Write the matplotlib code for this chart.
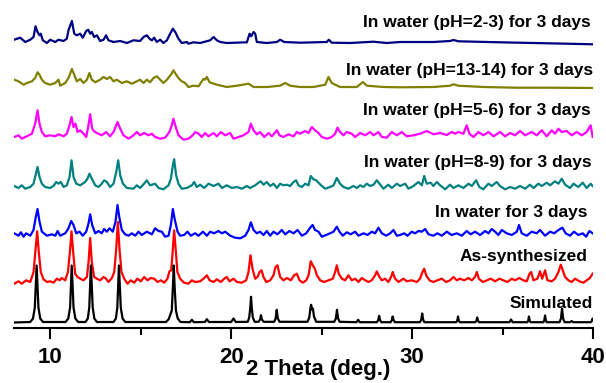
import numpy as np
import matplotlib
matplotlib.use("Agg")
import matplotlib.pyplot as plt

plt.rcParams['font.family'] = ['Liberation Sans', 'DejaVu Sans']
plt.rcParams['font.weight'] = 'bold'

# (2theta, intensity above own baseline)
simulated = [(8.0,0),(8.9,0.5),(9.05,4),(9.15,15),(9.21,40),(9.25,57),(9.29,40),(9.35,15),(9.45,4),(9.6,0.5),
             (10.85,0.5),(11.0,4),(11.1,15),(11.15,40),(11.19,57),(11.23,40),(11.29,15),(11.39,4),(11.55,0.5),
             (11.95,0.5),(12.08,4),(12.16,15),(12.21,40),(12.25,57),(12.29,40),(12.35,15),(12.44,4),(12.58,0.5),
             (13.5,0.5),(13.63,4),(13.71,15),(13.76,40),(13.8,57),(13.84,40),(13.9,15),(14.0,4),(14.15,0.5),
             (16.4,0.5),(16.55,3.3),(16.65,8.3),(16.72,12),(16.78,35),(16.83,57),(16.88,35),(16.95,12),(17.05,4),(17.2,0.5),
             (17.72,0.3),(17.83,2.7),(17.94,0.3),(18.55,0.5),(18.66,3.3),(18.77,0.5),(20.0,0.5),(20.13,4),(20.26,0.5),
             (20.92,0.7),(21.0,5),(21.06,15),(21.1,25.7),(21.14,15),(21.2,5),(21.3,0.7),(21.52,0.7),(21.6,3),(21.65,7.3),(21.7,3),(21.8,0.7),
             (22.38,0.7),(22.46,4),(22.52,12.7),(22.58,4),(22.68,0.7),
             (24.22,0.7),(24.32,5),(24.38,14),(24.42,17.7),(24.47,13),(24.52,14),(24.58,6),(24.7,0.7),
             (25.7,0.7),(25.79,4),(25.85,12.7),(25.91,4),(26.0,0.7),(26.93,0.3),(27.02,2.7),(27.11,0.3),
             (28.06,0.3),(28.13,2.5),(28.18,6.7),(28.23,2.5),(28.3,0.3),(28.82,0.3),(28.88,2.5),(28.93,6),(28.98,2.5),(29.05,0.3),
             (30.44,0.3),(30.51,3),(30.56,9),(30.61,3),(30.68,0.3),(32.44,0.3),(32.5,2),(32.54,6),(32.58,2),(32.64,0.3),
             (33.5,0.3),(33.56,2),(33.6,5),(33.64,2),(33.7,0.3),(35.38,0.3),(35.47,3),(35.56,0.3),
             (36.37,0.3),(36.42,2),(36.46,6),(36.5,2),(36.55,0.3),(37.26,0.3),(37.31,2.5),(37.35,7),(37.39,2.5),(37.44,0.3),
             (38.15,0.3),(38.23,4),(38.29,14),(38.35,4),(38.43,0.3),(38.74,0.3),(38.82,1.5),(38.9,0.3),
             (39.88,0.3),(39.94,1.5),(39.98,4),(40.0,3)]

as_synth = [(8.01,-1.7),(8.25,0.7),(8.43,-1.7),(8.67,1.7),(8.9,0),(9.08,10),(9.19,33),(9.28,50.7),(9.37,30),(9.48,10),(9.63,2.7),(9.82,0),(10.0,0.7),(10.18,-0.7),(10.37,3.3),(10.52,1.7),
            (10.64,4),(10.83,1.7),(10.98,10),(11.09,30),(11.18,50.7),(11.27,30),(11.38,8.3),(11.51,5),(11.66,3.3),(11.84,1.7),(12.03,5),(12.12,20),(12.21,44),(12.3,20),(12.43,5),
            (12.58,3.3),(12.76,1.7),(12.95,5),(13.09,3.3),(13.22,0),(13.41,4),(13.54,10),(13.65,33),(13.74,60),(13.83,33),(13.94,10),(14.09,3.3),(14.27,-1.7),(14.46,1.7),(14.64,-0.7),
            (14.82,3.3),(15.01,0.7),(15.19,5),(15.38,1.7),(15.56,4),(15.75,3.3),(15.93,0),(16.12,1.7),(16.3,-0.7),(16.48,3.3),(16.59,10.7),(16.69,11.7),(16.78,33),(16.85,51.7),
            (16.94,31.7),(17.03,10),(17.18,3.3),(17.4,-0.7),(17.64,-1.7),(17.83,1.7),(18.01,0),(18.29,0.7),(18.47,3.3),(18.66,6.7),(18.81,1.7),(19.03,0),(19.21,2.7),(19.43,0),
            (19.62,3.3),(19.76,5),(19.91,0.7),(20.13,3.3),(20.32,0),(20.59,-0.7),(20.83,1.7),(20.96,10),(21.07,26.7),(21.18,13.3),(21.33,3.3),(21.46,5),(21.57,10),(21.68,11.7),
            (21.79,5),(21.94,0),(22.16,1.7),(22.34,6.7),(22.45,15),(22.56,16.7),(22.71,5),(22.89,1.7),(23.08,4),(23.3,1.7),(23.48,6.7),(23.63,8.3),(23.78,1.7),(23.96,-0.7),
            (24.15,1.7),(24.28,6.7),(24.4,20.7),(24.51,16.7),(24.63,13.3),(24.74,6.7),(24.92,1.7),(25.14,0),(25.38,1.7),(25.62,3.3),(25.75,10),(25.84,16.7),(25.95,8.3),(26.12,3.3),
            (26.3,1.7),(26.48,6.7),(26.67,1.7),(26.85,3.3),(27.04,0),(27.22,4),(27.41,1.7),(27.59,0),(27.77,1.7),(27.96,6.7),(28.05,10.7),(28.2,5),(28.33,1.7),(28.51,3.3),(28.69,0),
            (28.84,5),(28.93,10),(29.06,3.3),(29.25,0),(29.52,3.3),(29.71,0.7),(29.98,1.7),(30.26,0),(30.44,3.3),(30.56,9.3),(30.67,13.3),(30.78,6.7),(30.96,1.7),(31.18,0),(31.4,1.7),
            (31.64,3.3),(31.88,0),(32.1,1.7),(32.29,5),(32.47,1.7),(32.65,3.3),(32.88,1.7),(33.12,4),(33.3,1.7),(33.48,5),(33.58,10),(33.69,3.3),(33.91,0),(34.13,1.7),(34.35,3.3),
            (34.59,0.7),(34.83,3.3),(35.05,1.7),(35.27,0),(35.51,3.3),(35.69,1.7),(35.93,4),(36.15,1.7),(36.34,0.7),(36.49,8.3),(36.58,10),(36.71,1.7),(36.93,3.3),(37.07,10.7),
            (37.19,3.3),(37.35,11.7),(37.48,1.7),(37.72,0.7),(37.9,3.3),(38.09,10),(38.22,17.3),(38.33,11.7),(38.46,5),(38.64,1.7),(38.82,0),(39.01,3.3),(39.25,0.7),(39.47,-0.7),
            (39.65,1.7),(39.83,4),(39.98,8.3)]

water = [(8.01,1.7),(8.25,-0.7),(8.38,2.7),(8.53,-1.7),(8.67,1.7),(8.9,-0.7),(9.08,5),(9.19,16.7),(9.3,26),(9.41,13.3),(9.54,3.3),(9.82,-0.7),(10.09,0.7),(10.28,-0.7),(10.41,4),
         (10.55,-0.7),(10.83,1.7),(11.01,6.7),(11.16,14),(11.29,10),(11.44,1.7),(11.62,3.3),(11.8,-0.7),(11.99,3.3),(12.12,11.7),(12.21,20.7),(12.32,10),(12.49,1.7),(12.67,4),
         (12.85,1.7),(12.98,6),(13.13,3.3),(13.28,6.7),(13.46,3.3),(13.61,13.3),(13.72,30),(13.83,16.7),(13.96,5),(14.14,0.7),(14.33,-0.7),(14.51,1.7),(14.7,-0.7),(14.88,3.3),
         (15.06,0),(15.34,3.3),(15.62,0.7),(15.8,6.7),(15.99,4),(16.17,3.3),(16.35,-1.7),(16.54,-0.7),(16.67,10),(16.78,26),(16.89,15),(17.04,3.3),(17.18,-0.7),(17.4,0),(17.59,3.3),
         (17.77,-0.7),(18.01,1.7),(18.2,-0.7),(18.44,3.3),(18.66,-0.7),(18.84,3.3),(19.06,1.7),(19.3,4),(19.49,1.7),(19.67,3.3),(19.95,-0.7),(20.22,-2.7),(20.5,-3.3),(20.78,-0.7),
         (20.96,5),(21.09,12.7),(21.24,5),(21.42,1.7),(21.6,3.3),(21.79,0),(21.97,4),(22.16,-0.7),(22.34,3.3),(22.56,0.7),(22.8,5),(22.99,0.7),(23.22,4),(23.45,1.7),(23.67,5),
         (23.91,-0.7),(24.15,1.7),(24.37,7.3),(24.5,10),(24.64,5),(24.83,3.3),(25.01,-1.7),(25.25,0),(25.47,1.7),(25.66,3.3),(25.84,8.3),(25.99,3.3),(26.17,-0.7),(26.39,2.7),
         (26.61,0.7),(26.85,3.3),(27.04,-0.7),(27.31,1.7),(27.54,0),(27.77,3.3),(27.96,1.7),(28.14,7.3),(28.33,1.7),(28.57,-0.7),(28.79,1.7),(28.97,5),(29.16,-0.7),(29.34,0),
         (29.56,1.7),(29.75,-0.7),(29.98,3.3),(30.17,1.7),(30.35,4),(30.54,3.3),(30.72,6),(30.91,0.7),(31.18,-0.7),(31.4,1.7),(31.64,-0.7),(31.92,3.3),(32.19,0),(32.47,1.7),
         (32.75,-0.7),(33.02,4),(33.24,0.7),(33.48,3.3),(33.76,0),(34.04,4),(34.22,1.7),(34.4,6),(34.59,3.3),(34.77,0),(34.96,5),(35.23,1.7),(35.51,0),(35.79,3.3),(35.91,10),
         (36.06,1.7),(36.34,-0.7),(36.61,3.3),(36.89,1.7),(37.07,5),(37.35,-0.7),(37.63,3.3),(37.85,1.7),(38.09,5),(38.31,7.3),(38.49,1.7),(38.73,-0.7),(38.95,3.3),(39.19,0),
         (39.43,1.7),(39.62,-1.7),(39.8,4),(39.98,1.7)]

ph_8_9 = [(8.01,1),(8.25,-1),(8.43,1.7),(8.62,-1.7),(8.9,0),(9.08,3.3),(9.19,11.7),(9.3,20),(9.41,10),(9.54,3.3),(9.72,0),(10.0,-1),(10.18,1),(10.33,5),(10.46,3.3),(10.59,5),
          (10.74,0),(10.92,1.7),(11.07,10),(11.18,26.7),(11.29,10),(11.44,3.3),(11.66,1.7),(11.93,5),(12.06,8.3),(12.17,13.3),(12.3,8.3),(12.49,1.7),(12.67,0),(12.85,3.3),
          (12.98,6.7),(13.13,5),(13.31,0),(13.5,3.3),(13.65,15),(13.76,26.7),(13.87,11.7),(14.02,3.3),(14.24,-1),(14.6,-1.7),(14.79,1.7),(14.97,-1),(15.19,3.3),(15.34,6.7),
          (15.52,1.7),(15.8,3.3),(15.99,-1),(16.26,-2.3),(16.54,1.7),(16.67,8.3),(16.78,21.7),(16.85,27.7),(16.96,11.7),(17.09,3.3),(17.27,-1.7),(17.55,-1),(17.83,1.7),(17.96,5),
          (18.1,0),(18.29,2.3),(18.51,-1),(18.75,3.3),(19.03,1),(19.3,3.3),(19.49,-1),(19.76,1.7),(20.04,-1),(20.32,0),(20.59,-1.7),(20.87,1),(21.05,-1),(21.33,1.7),(21.51,4.3),
          (21.64,5.7),(21.79,2.3),(21.97,5),(22.16,1),(22.34,3.3),(22.53,-1),(22.71,3.3),(22.89,1.7),(23.08,2.3),(23.26,1),(23.45,5),(23.59,6.7),(23.72,1.7),(23.91,0),(24.09,3.3),
          (24.28,1.7),(24.4,11),(24.55,7.7),(24.7,6.7),(24.83,4.3),(25.01,1),(25.2,-1.7),(25.47,0),(25.66,1.7),(25.84,9),(26.02,3.3),(26.21,0),(26.48,-1.7),(26.76,1),(26.95,-1),
          (27.13,1.7),(27.31,0),(27.5,3.3),(27.68,1),(27.87,2.3),(28.05,6.7),(28.2,3.3),(28.42,-1.7),(28.69,2.3),(28.88,-1),(29.16,3.3),(29.34,1),(29.62,3.3),(29.8,-1.7),(30.08,1),
          (30.35,5),(30.54,1.7),(30.67,11),(30.81,3.3),(31.03,4.3),(31.18,1),(31.37,5),(31.55,1.7),(31.83,-2.3),(32.1,2.3),(32.29,-1),(32.56,1.7),(32.84,-1),(33.12,3.3),(33.3,1),
          (33.54,6.7),(33.72,0),(33.94,-2.3),(34.22,3.3),(34.4,1),(34.68,5),(34.86,1),(35.14,-2.3),(35.42,0),(35.69,-1.7),(35.97,1),(36.25,-1.7),(36.52,2.3),(36.71,-1),(36.98,3.3),
          (37.17,1),(37.44,4.3),(37.63,1.7),(37.9,5.7),(38.09,3.3),(38.27,8.3),(38.46,2.3),(38.73,-1),(38.92,3.3),(39.19,0),(39.43,4.3),(39.65,-1),(39.87,3.3),(39.98,1)]

ph_5_6 = [(8.01,0),(8.25,1.7),(8.43,-1.7),(8.71,0.7),(8.99,3.3),(9.17,13.3),(9.3,26.7),(9.41,13.3),(9.54,5),(9.72,0.7),(10.0,1.7),(10.28,0.7),(10.46,2.7),(10.74,0.7),(10.92,3.3),
          (11.07,11.7),(11.18,20),(11.29,10),(11.4,13.3),(11.51,5),(11.66,6.7),(11.84,3.3),(11.99,0),(12.1,10),(12.21,22.7),(12.32,8.3),(12.47,5),(12.67,3.3),(12.85,1.7),(13.09,5),
          (13.31,0.7),(13.5,5),(13.72,15),(13.87,8.3),(14.05,1.7),(14.33,-1.7),(14.6,1.7),(14.79,5),(14.97,1.7),(15.19,4),(15.43,1.7),(15.62,3.3),(15.8,0),(16.08,-1.7),(16.35,-0.7),
          (16.59,5),(16.72,11.7),(16.81,18.3),(16.94,10),(17.09,1.7),(17.37,-2.7),(17.64,-1.7),(17.88,1.7),(18.01,5),(18.2,3.3),(18.38,0),(18.56,4),(18.75,0.7),(19.03,4),(19.21,0.7),
          (19.43,5),(19.67,1.7),(19.95,4),(20.13,-1.7),(20.41,0),(20.68,1.7),(20.96,5),(21.09,13.3),(21.24,6.7),(21.42,2.7),(21.6,5),(21.83,0),(22.07,4),(22.25,0.7),(22.53,6.7),
          (22.67,1.7),(22.89,0),(23.17,2.7),(23.45,0.7),(23.63,5),(23.81,3.3),(24.09,6),(24.28,4),(24.46,10),(24.64,6.7),(24.83,4),(25.01,0),(25.29,-1.7),(25.56,0),(25.75,3.3),
          (25.88,9.3),(26.02,5),(26.21,1.7),(26.39,5),(26.67,3.3),(26.85,0),(27.13,4),(27.41,1.7),(27.68,5),(27.87,1.7),(28.14,5),(28.33,0),(28.6,-0.7),(28.88,5),(29.16,1.7),
          (29.43,5),(29.71,0.7),(30.08,1.7),(30.44,3.3),(30.81,6),(31.18,2.7),(31.55,4),(31.92,2),(32.19,5),(32.38,3.3),(32.56,5),(32.84,3.3),(33.02,11.7),(33.17,3.3),(33.39,0),
          (33.67,5),(33.94,1.7),(34.22,5),(34.5,0.7),(34.86,5),(35.14,0.7),(35.42,4),(35.69,1.7),(35.97,6),(36.25,1.7),(36.61,5),(36.89,1.7),(37.17,6.7),(37.44,0.7),(37.72,6.7),
          (37.9,3.3),(38.09,8.3),(38.27,5),(38.55,6),(38.82,1.7),(39.1,5),(39.38,1.7),(39.65,5),(39.87,11.7),(39.98,0)]

ph_13_14 = [(8.01,3.3),(8.25,1.7),(8.53,-1.7),(8.71,0),(8.99,1.7),(9.17,5),(9.3,10.7),(9.41,8.3),(9.54,3.3),(9.72,0),(10.0,-1.7),(10.28,0),(10.46,3.3),(10.55,-2.7),(10.83,0),
            (11.01,5),(11.2,14),(11.33,8.3),(11.47,1.7),(11.66,4),(11.84,0),(12.03,3.3),(12.17,10),(12.3,3.3),(12.49,0.7),(12.76,3.3),(12.95,6),(13.13,4),(13.31,6),(13.5,1.7),
            (13.68,3.3),(13.96,0),(14.24,1.7),(14.51,-0.7),(14.79,1.7),(14.97,3.3),(15.16,0),(15.34,3.3),(15.52,0.7),(15.71,5),(15.89,6.7),(16.08,3.3),(16.26,0),(16.45,3.3),
            (16.67,8.3),(16.81,12.7),(16.96,8.3),(17.09,5),(17.27,1.7),(17.46,0),(17.64,-4),(17.92,-2.7),(18.2,-3.3),(18.38,1.7),(18.47,4),(18.56,3.3),(18.66,6),(18.81,0.7),
            (19.21,-1.7),(19.76,-4),(20.32,-2.7),(20.96,-0.7),(21.24,-4),(21.97,-4),(22.71,-2.7),(22.99,0),(23.26,-2.7),(23.81,-4),(24.55,-4),(25.2,-1.7),(25.38,6),(25.56,0),
            (26.02,-4),(26.95,-4),(27.28,1),(27.5,-2.7),(28.42,-4),(29.34,-4.3),(31.18,-4),(32.1,-2.7),(32.29,-1.3),(32.56,-2.7),(33.94,-4),(35.79,-4.7),(37.63,-4.7),(39.98,-5)]

ph_2_3 = [(8.01,2.3),(8.34,4.3),(8.62,0),(8.9,2.3),(9.08,5),(9.19,15.7),(9.3,10),(9.41,6.7),(9.48,8.3),(9.59,1.7),(9.82,-1),(10.0,2.3),(10.28,0),(10.46,2.3),(10.74,1),(10.92,3.3),
          (11.01,11.7),(11.2,21),(11.33,8.3),(11.47,6.7),(11.66,8.3),(11.8,4.3),(11.99,11),(12.1,12.3),(12.21,8.3),(12.3,10),(12.43,5),(12.58,6.7),(12.76,1),(12.95,2.3),(13.09,6.7),
          (13.22,1.7),(13.5,0),(13.87,1),(14.24,-1),(14.6,1.7),(14.97,1),(15.16,5),(15.34,6.7),(15.49,3.3),(15.62,1.7),(15.75,4.3),(15.89,0),(16.08,2.3),(16.26,-1),(16.45,1.7),
          (16.63,8.3),(16.78,13.3),(16.91,10),(17.09,3.3),(17.27,-1),(17.55,0),(17.64,-1.7),(17.92,-0.3),(18.29,-1),(18.84,1.7),(19.03,5),(19.21,1.7),(19.4,0),(19.76,-1),
          (20.87,-0.3),(21.02,8.3),(21.11,5.7),(21.24,10),(21.33,8.3),(21.42,0),(21.97,-1),(22.53,0),(22.71,2.3),(22.93,0),(23.81,-0.7),(25.29,0),(25.4,2.3),(25.56,-0.7),
          (26.58,-1),(27.87,0.3),(28.6,-1),(29.34,0),(31.18,0),(32.1,1),(32.29,2),(32.56,0.7),(34.86,-0.3),(36.7,-1),(38.55,-1.7),(39.98,-2.3)]

labels = ["Simulated", "As-synthesized", "In water for 3 days", "In water (pH=8-9) for 3 days",
          "In water (pH=5-6) for 3 days", "In water (pH=13-14) for 3 days", "In water (pH=2-3) for 3 days"]
series = [simulated, as_synth, water, ph_8_9, ph_5_6, ph_13_14, ph_2_3]
colors = ["black", "#ff0000", "#0000ff", "#008080", "#ff00ff", "#808000", "#000080"]
offsets = [5.5, 46, 93, 141, 191, 245, 286]
label_y = [25, 71, 115, 165, 218, 258, 305]
label_x = [40.0, 39.72, 39.67, 39.9, 39.9, 40.0, 39.9]
zorders = [3, 2, 4, 5, 6, 7, 8]

fig = plt.figure(figsize=(6.06, 3.83), dpi=100)
ax = fig.add_axes([14/606, 1 - 328/383, 579/606, 328/383])

for data, c, off, z in zip(series, colors, offsets, zorders):
    d = np.array(data)
    ax.plot(d[:, 0], d[:, 1] + off, color=c, lw=1.6, zorder=z, solid_joinstyle='round')

for lab, lx, ly in zip(labels, label_x, label_y):
    ax.text(lx, ly, lab, ha='right', va='center', fontsize=12.5, fontweight='bold', zorder=10)

ax.set_xlim(8, 40)
ax.set_ylim(0, 328)
for s in ['left', 'right', 'top']:
    ax.spines[s].set_visible(False)
ax.spines['bottom'].set_linewidth(1.5)
ax.set_yticks([])
ax.set_xticks([10, 20, 30, 40])
ax.set_xticks([15, 25, 35], minor=True)
ax.tick_params(axis='x', which='major', direction='out', length=8, width=1.5, labelsize=16, pad=6)
ax.tick_params(axis='x', which='minor', direction='out', length=5, width=1.5)
for t in ax.get_xticklabels():
    t.set_fontweight('bold')
ax.set_xlabel("2 Theta (deg.)", fontsize=16, fontweight='bold')
ax.xaxis.label.set_va('center')
ax.xaxis.set_label_coords(0.525, -0.128)
ax.patch.set_alpha(0)

fig.savefig("out.png", dpi=100)
